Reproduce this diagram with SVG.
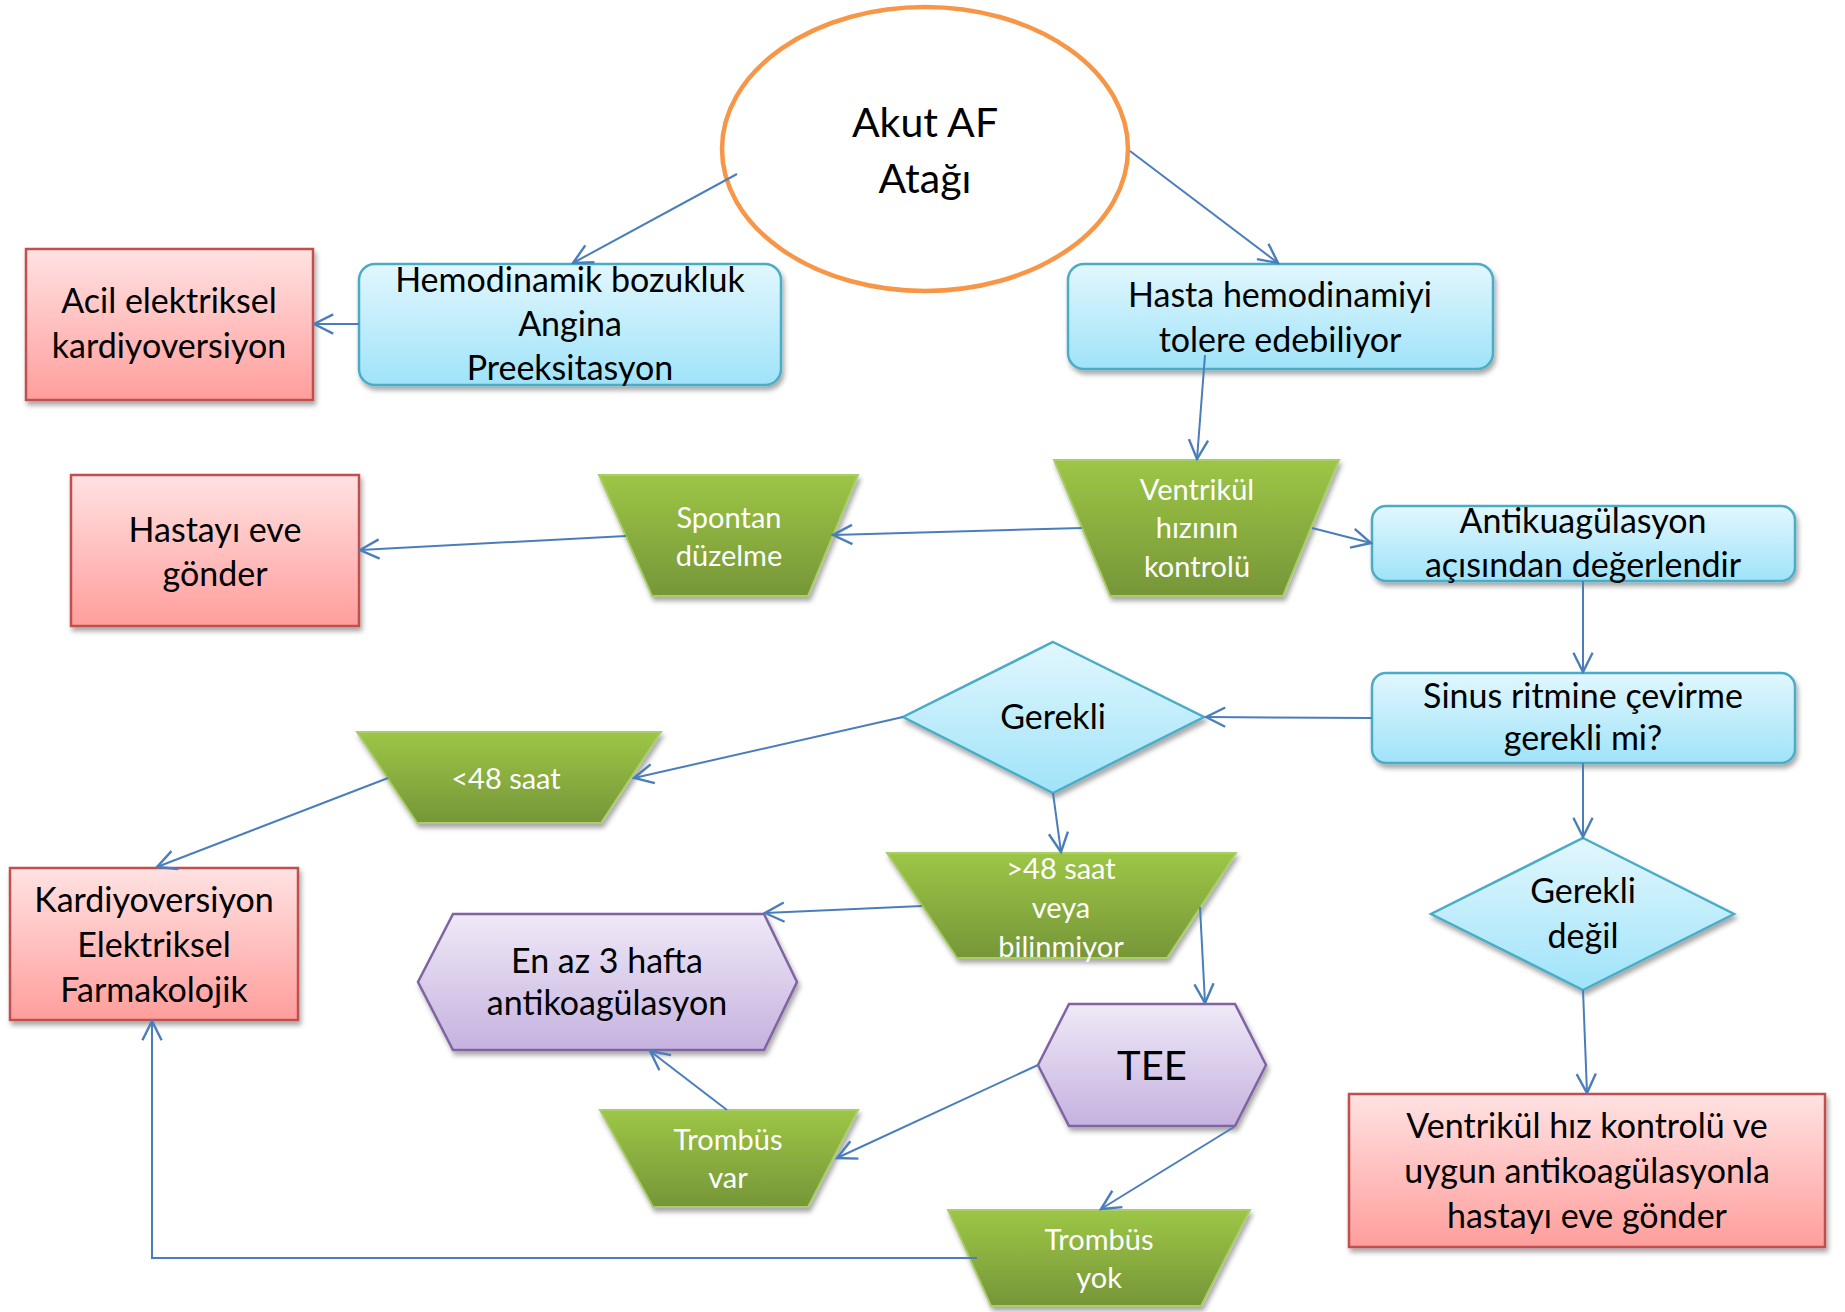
<svg xmlns="http://www.w3.org/2000/svg" width="1845" height="1312" viewBox="0 0 1845 1312">
  <style>
    .t { font-family: Lato, "Liberation Sans", sans-serif; text-anchor: middle; fill: #000; font-size: 34px; }
    .w { font-family: Lato, "Liberation Sans", sans-serif; text-anchor: middle; fill: #fff; font-size: 29px; }
    .blue { fill: url(#gBlue); stroke: #4bacc6; stroke-width: 2.5; filter: url(#shadow); }
    .red { fill: url(#gRed); stroke: #c0504d; stroke-width: 2.5; filter: url(#shadow); }
    .green { fill: url(#gGreen); stroke: #a9cd6a; stroke-width: 2; filter: url(#shadow); }
    .purple { fill: url(#gPurple); stroke: #8064a2; stroke-width: 2.5; filter: url(#shadow); }
    .edge { fill: none; stroke: #4a7ebb; stroke-width: 2; marker-end: url(#arrow); }
  </style>
  <defs>
    <linearGradient id="gBlue" x1="0" y1="0" x2="0" y2="1">
      <stop offset="0" stop-color="#e2f7fe"/>
      <stop offset="1" stop-color="#9fe3f9"/>
    </linearGradient>
    <linearGradient id="gRed" x1="0" y1="0" x2="0" y2="1">
      <stop offset="0" stop-color="#ffe2e2"/>
      <stop offset="1" stop-color="#ff9e9c"/>
    </linearGradient>
    <linearGradient id="gGreen" x1="0" y1="0" x2="0" y2="1">
      <stop offset="0" stop-color="#9dc646"/>
      <stop offset="1" stop-color="#769638"/>
    </linearGradient>
    <linearGradient id="gPurple" x1="0" y1="0" x2="0" y2="1">
      <stop offset="0" stop-color="#efe9f7"/>
      <stop offset="1" stop-color="#c5b2df"/>
    </linearGradient>
    <filter id="shadow" x="-10%" y="-10%" width="125%" height="130%">
      <feDropShadow dx="2" dy="4" stdDeviation="2.5" flood-color="#000" flood-opacity="0.35"/>
    </filter>
    <marker id="arrow" markerUnits="userSpaceOnUse" markerWidth="24" markerHeight="24" viewBox="-18 -10 20 20" refX="0" refY="0" orient="auto">
      <path d="M-16,-8 L0,0 L-16,8" fill="none" stroke="#4a7ebb" stroke-width="2"/>
    </marker>
  </defs>

  <rect width="1845" height="1312" fill="#fff"/>

  <!-- start: acute AF episode -->
  <g id="akut-af">
    <ellipse cx="925" cy="149" rx="203" ry="142" fill="#fff" stroke="#f79646" stroke-width="4.5"/>
    <text class="t" x="925" y="137" style="font-size:41px">Akut AF</text>
    <text class="t" x="925" y="193" style="font-size:41px">Atağı</text>
  </g>

  <g id="hemodinamik">
    <rect class="blue" x="359" y="264" width="422" height="121" rx="16"/>
    <text class="t" x="570" y="292">Hemodinamik bozukluk</text>
    <text class="t" x="570" y="336">Angina</text>
    <text class="t" x="570" y="380">Preeksitasyon</text>
  </g>

  <g id="acil">
    <rect class="red" x="26" y="249" width="287" height="151"/>
    <text class="t" x="169" y="313">Acil elektriksel</text>
    <text class="t" x="169" y="358">kardiyoversiyon</text>
  </g>

  <g id="tolere">
    <rect class="blue" x="1068" y="264" width="425" height="105" rx="16"/>
    <text class="t" x="1280" y="307">Hasta hemodinamiyi</text>
    <text class="t" x="1280" y="352">tolere edebiliyor</text>
  </g>

  <g id="ventrikul">
    <polygon class="green" points="1054,460 1339,460 1283,596 1110,596"/>
    <text class="w" x="1197" y="500">Ventrikül</text>
    <text class="w" x="1197" y="538">hızının</text>
    <text class="w" x="1197" y="577">kontrolü</text>
  </g>

  <g id="spontan">
    <polygon class="green" points="599,475 858,475 808,596 652,596"/>
    <text class="w" x="729" y="528">Spontan</text>
    <text class="w" x="729" y="566">düzelme</text>
  </g>

  <g id="eve-gonder">
    <rect class="red" x="71" y="475" width="288" height="151"/>
    <text class="t" x="215" y="542">Hastayı eve</text>
    <text class="t" x="215" y="586">gönder</text>
  </g>

  <g id="antikuag">
    <rect class="blue" x="1372" y="506" width="423" height="75" rx="14"/>
    <text class="t" x="1583" y="533">Antikuagülasyon</text>
    <text class="t" x="1583" y="577">açısından değerlendir</text>
  </g>

  <g id="sinus">
    <rect class="blue" x="1372" y="673" width="423" height="90" rx="14"/>
    <text class="t" x="1583" y="708">Sinus ritmine çevirme</text>
    <text class="t" x="1583" y="750">gerekli mi?</text>
  </g>

  <g id="gerekli">
    <polygon class="blue" points="1053,642 1204,717 1053,793 903,717"/>
    <text class="t" x="1053" y="729">Gerekli</text>
  </g>

  <g id="kisa-sure">
    <polygon class="green" points="357,732 661,732 601,823 417,823"/>
    <text class="w" x="506" y="789">&lt;48 saat</text>
  </g>

  <g id="kardiyoversiyon">
    <rect class="red" x="10" y="868" width="288" height="152"/>
    <text class="t" x="154" y="912">Kardiyoversiyon</text>
    <text class="t" x="154" y="957">Elektriksel</text>
    <text class="t" x="154" y="1002">Farmakolojik</text>
  </g>

  <g id="uzun-sure">
    <polygon class="green" points="887,853 1236,853 1167,958 957,958"/>
    <text class="w" x="1061" y="879">&gt;48 saat</text>
    <text class="w" x="1061" y="918">veya</text>
    <text class="w" x="1061" y="957">bilinmiyor</text>
  </g>

  <g id="antikoag-3-hafta">
    <polygon class="purple" points="453,914 764,914 797,982 764,1050 453,1050 418,982"/>
    <text class="t" x="607" y="973">En az 3 hafta</text>
    <text class="t" x="607" y="1015">antikoagülasyon</text>
  </g>

  <g id="tee">
    <polygon class="purple" points="1069,1004 1235,1004 1266,1065 1235,1126 1069,1126 1038,1065"/>
    <text class="t" x="1152" y="1080" style="font-size:40px">TEE</text>
  </g>

  <g id="gerekli-degil">
    <polygon class="blue" points="1583,838 1734,914 1583,990 1431,914"/>
    <text class="t" x="1583" y="903">Gerekli</text>
    <text class="t" x="1583" y="948">değil</text>
  </g>

  <g id="hiz-kontrolu">
    <rect class="red" x="1349" y="1094" width="476" height="153"/>
    <text class="t" x="1587" y="1138">Ventrikül hız kontrolü ve</text>
    <text class="t" x="1587" y="1183">uygun antikoagülasyonla</text>
    <text class="t" x="1587" y="1228">hastayı eve gönder</text>
  </g>

  <g id="trombus-var">
    <polygon class="green" points="600,1110 858,1110 808,1207 653,1207"/>
    <text class="w" x="728" y="1150">Trombüs</text>
    <text class="w" x="728" y="1188">var</text>
  </g>

  <g id="trombus-yok">
    <polygon class="green" points="948,1210 1250,1210 1201,1306 991,1306"/>
    <text class="w" x="1099" y="1250">Trombüs</text>
    <text class="w" x="1099" y="1288">yok</text>
  </g>

  <!-- connectors -->
  <g id="connectors">
    <line class="edge" x1="737" y1="174" x2="573" y2="263"/>
    <line class="edge" x1="1130" y1="151" x2="1278" y2="263"/>
    <line class="edge" x1="359" y1="324" x2="314" y2="324"/>
    <line class="edge" x1="1205" y1="355" x2="1197" y2="459"/>
    <line class="edge" x1="1082" y1="528" x2="833" y2="535"/>
    <line class="edge" x1="626" y1="536" x2="360" y2="550"/>
    <line class="edge" x1="1312" y1="528" x2="1371" y2="543"/>
    <line class="edge" x1="1583" y1="581" x2="1583" y2="672"/>
    <line class="edge" x1="1372" y1="718" x2="1206" y2="717"/>
    <line class="edge" x1="1583" y1="763" x2="1583" y2="837"/>
    <line class="edge" x1="1583" y1="990" x2="1587" y2="1093"/>
    <line class="edge" x1="903" y1="717" x2="634" y2="778"/>
    <line class="edge" x1="388" y1="778" x2="157" y2="867"/>
    <line class="edge" x1="1053" y1="793" x2="1061" y2="852"/>
    <line class="edge" x1="922" y1="906" x2="765" y2="913"/>
    <line class="edge" x1="1200" y1="907" x2="1205" y2="1003"/>
    <line class="edge" x1="1038" y1="1065" x2="837" y2="1158"/>
    <line class="edge" x1="1234" y1="1127" x2="1101" y2="1209"/>
    <line class="edge" x1="727" y1="1110" x2="650" y2="1051"/>
    <polyline class="edge" points="977,1258 152,1258 152,1021"/>
  </g>
</svg>
